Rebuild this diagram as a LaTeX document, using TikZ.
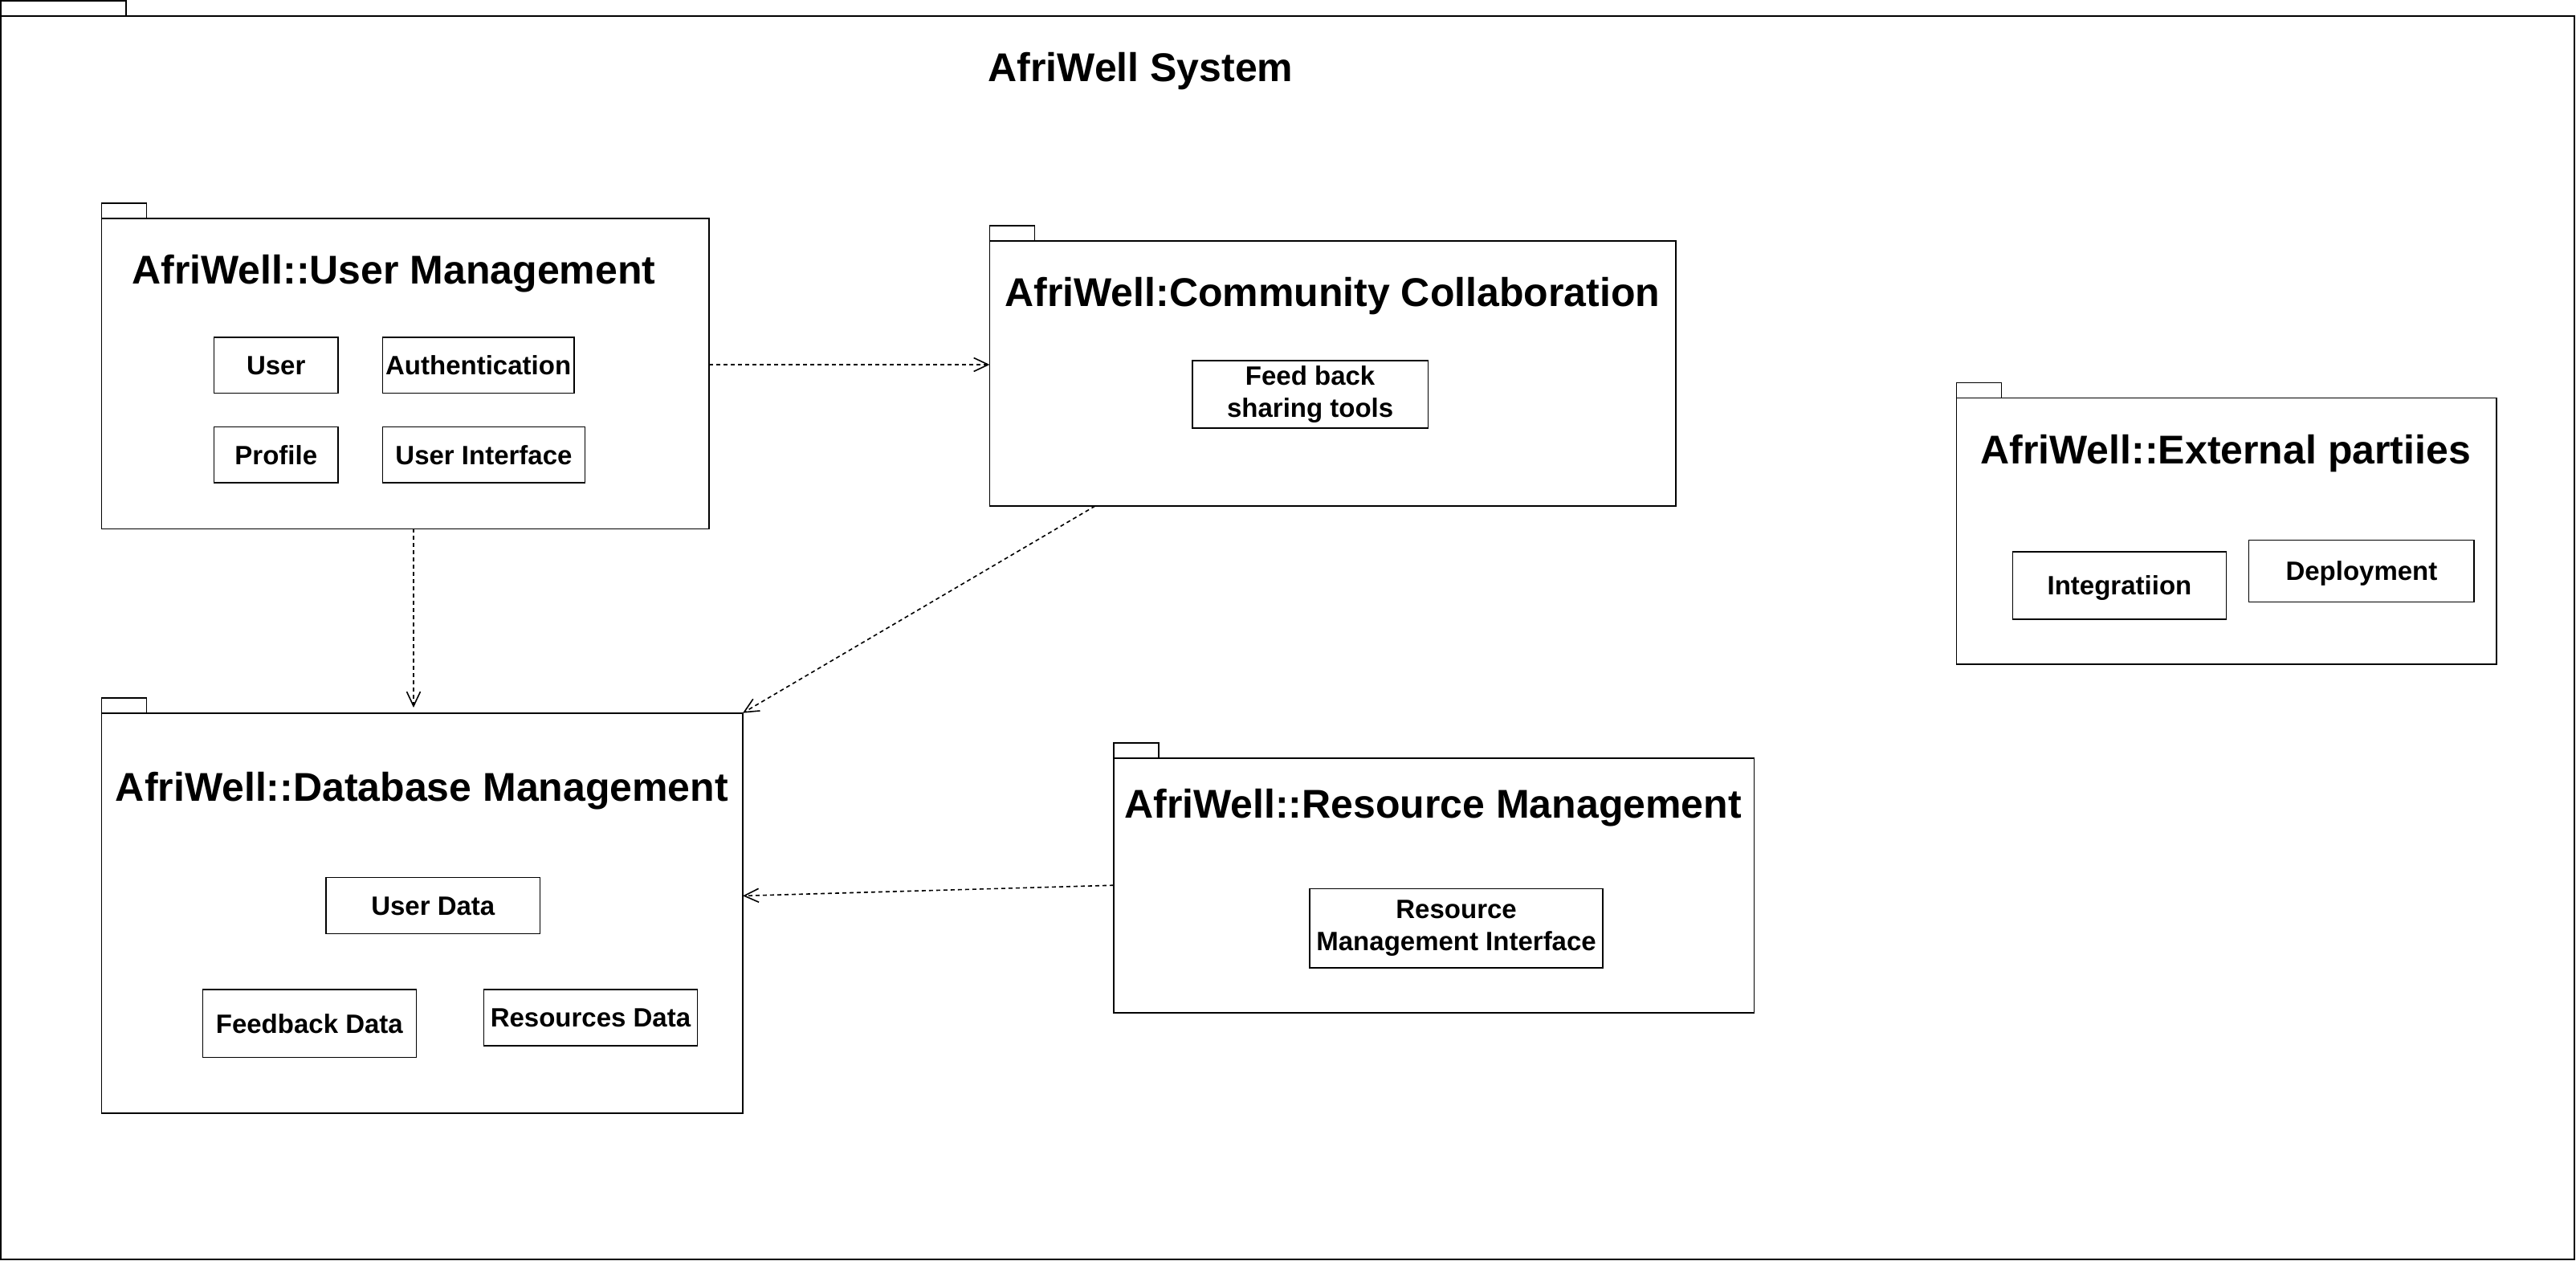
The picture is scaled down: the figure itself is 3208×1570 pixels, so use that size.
\documentclass[tikz,border=0pt]{standalone}
\usepackage{fontspec}
\setmainfont{Liberation Sans}
\usetikzlibrary{arrows.meta,calc}
\begin{document}
\begin{tikzpicture}[x=1pt,y=-1pt,
  pkgbox/.style={draw=black, line width=1.6pt, inner sep=0pt, outer sep=0pt},
  pkgtab/.style={pkgbox, anchor=south west, minimum width=56pt, minimum height=19pt},
  ptitle/.style={anchor=base, inner sep=0pt, font=\bfseries\fontsize{50}{60}\selectfont},
  item/.style={draw=black, line width=1.6pt, inner sep=0pt, outer sep=0pt, font=\bfseries\fontsize{33}{38}\selectfont, text height=23.6pt, text depth=0pt},
  itemtwo/.style={draw=black, line width=1.6pt, inner sep=0pt, outer sep=0pt, align=center, font=\bfseries\fontsize{33}{40}\selectfont},
  dep/.style={draw=black, line width=1.6pt, dash pattern=on 5pt off 4pt, -{Straight Barb[length=18pt,width=17pt,line width=1.6pt]}}
]
\useasboundingbox (0,0) rectangle (3208,1570);

% system frame
\node[pkgbox, minimum width=3205pt, minimum height=1548pt] (sys) at (1603.5,794) {};
\node[pkgtab, minimum width=156pt] (systab) at (sys.north west) {};
\node[ptitle] (systitle) at (1420.5,101.7) {AfriWell System};

% User Management
\node[pkgbox, minimum width=756.5pt, minimum height=386pt] (um) at (504.75,465.3) {};
\node[pkgtab] (umtab) at (um.north west) {};
\node[ptitle] (umtitle) at (490.5,353.4) {AfriWell::User Management};
\node[item, minimum width=154.5pt, minimum height=69.4pt] (user) at (343.75,454.7) {User};
\node[item, minimum width=238.1pt, minimum height=69.4pt] (auth) at (595.65,454.7) {Authentication};
\node[item, minimum width=154.5pt, minimum height=69.4pt] (profile) at (343.75,566.3) {Profile};
\node[item, minimum width=251.8pt, minimum height=69.4pt] (ui) at (602.5,566.3) {User Interface};

% Community Collaboration
\node[pkgbox, minimum width=854.5pt, minimum height=330.3pt] (cc) at (1659.75,464.85) {};
\node[pkgtab] (cctab) at (cc.north west) {};
\node[ptitle] (cctitle) at (1659.3,381.7) {AfriWell:Community Collaboration};
\node[itemtwo, minimum width=293.9pt, minimum height=84pt] (fbst) at (1631.65,490.7) {Feed back\\sharing tools};

% Database Management
\node[pkgbox, minimum width=798.4pt, minimum height=498.3pt] (db) at (525.8,1136.85) {};
\node[pkgtab] (dbtab) at (db.north west) {};
\node[ptitle] (dbtitle) at (525.5,997.7) {AfriWell::Database Management};
\node[item, minimum width=266.2pt, minimum height=69.9pt] (udata) at (539.3,1127.35) {User Data};
\node[item, minimum width=266.1pt, minimum height=84.1pt] (fdata) at (385.35,1274.25) {Feedback Data};
\node[item, minimum width=266.2pt, minimum height=69.6pt] (rdata) at (735.5,1267) {Resources Data};

% Resource Management
\node[pkgbox, minimum width=797.8pt, minimum height=317pt] (rm) at (1785.7,1102.2) {};
\node[pkgtab] (rmtab) at (rm.north west) {};
\node[ptitle] (rmtitle) at (1784.6,1018) {AfriWell::Resource Management};
\node[itemtwo, minimum width=364.8pt, minimum height=98.4pt] (rmi) at (1813.6,1155.5) {Resource\\Management Interface};

% External parties
\node[pkgbox, minimum width=672.2pt, minimum height=331.4pt] (ep) at (2772.6,661) {};
\node[pkgtab] (eptab) at (ep.north west) {};
\node[ptitle] (eptitle) at (2771.7,577.3) {AfriWell::External partiies};
\node[item, minimum width=266.3pt, minimum height=84pt] (integ) at (2639.45,728.7) {Integratiion};
\node[item, minimum width=280.6pt, minimum height=77pt] (deploy) at (2940.9,710.8) {Deployment};

% dependencies
\draw[dep] ([yshift=11.3pt]um.east) -- ([yshift=11.3pt]um.east -| cc.west);
\draw[dep, shorten >=6.7pt] ([xshift=10.25pt]um.south) -- ([xshift=10.25pt]um.south |- db.north);
\draw[dep] ([xshift=131.3pt]cc.south west) -- (db.north east);
\draw[dep] (rm.west) -- ([yshift=21.5pt]db.east);
\end{tikzpicture}
\end{document}
